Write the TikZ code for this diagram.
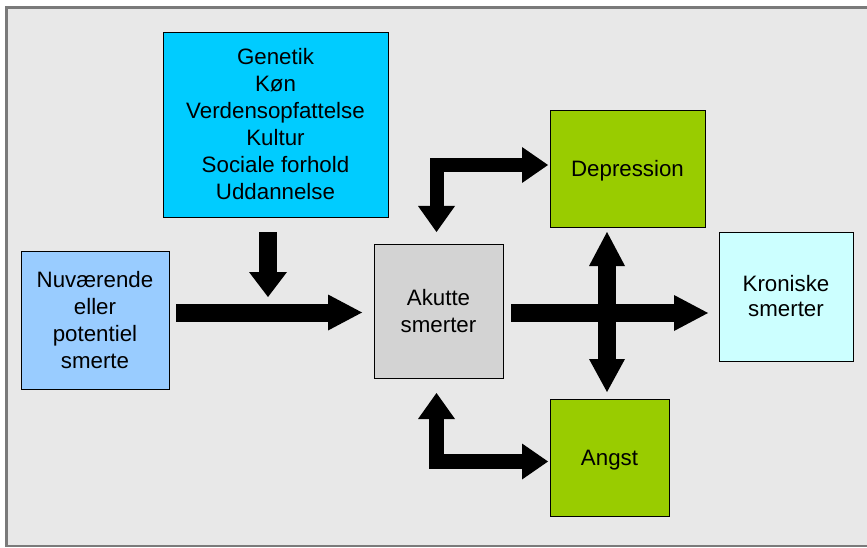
\documentclass[tikz,border=0pt]{standalone}
\usepackage{fontspec}
\setmainfont{Liberation Sans}
\usetikzlibrary{arrows.meta}
\definecolor{bgc}{HTML}{E8E8E8}
\definecolor{framec}{HTML}{7A7A7A}
\definecolor{genc}{HTML}{00CCFF}
\definecolor{nuvc}{HTML}{99CCFF}
\definecolor{akc}{HTML}{D3D3D3}
\definecolor{grc}{HTML}{99CC00}
\definecolor{krc}{HTML}{CCFFFF}
\begin{document}
\begin{tikzpicture}[x=1pt,y=-1pt,
  box/.style={draw=black, line width=0.9pt, align=center, inner sep=0pt,
    font=\fontsize{22.3}{27}\selectfont},
  onel/.style={text height=16pt, text depth=0pt},
  blk/.style={draw=black, line width=#1, line join=miter},
  bigtip/.style={-{Triangle[width=36pt,length=34pt,line width=0pt]}},
  dbltip/.style={{Triangle[width=36pt,length=33pt,line width=0pt]}-{Triangle[width=36pt,length=34pt,line width=0pt]}},
  elbtip/.style={{Triangle[width=37pt,length=26pt,line width=0pt]}-{Triangle[width=36pt,length=26pt,line width=0pt]}},
  ]
\useasboundingbox (0,0) rectangle (867,548);
\fill[white] (0,0) rectangle (867,548);
\draw[fill=bgc, draw=framec, line width=2.5pt] (6.5,7.5) rectangle (872,546);

\node[box, fill=genc, minimum width=225pt, minimum height=185pt] (gen) at (275.5,124.5)
  {Genetik\\Køn\\Verdensopfattelse\\Kultur\\Sociale forhold\\Uddannelse};
\node[box, fill=nuvc, minimum width=148pt, minimum height=138pt] (nuv) at (95,320)
  {Nuværende\\eller\\potentiel\\smerte};
\node[box, fill=akc, minimum width=129pt, minimum height=134pt] (akut) at (438.5,311)
  {Akutte\\smerter};
\node[box, onel, fill=grc, minimum width=155pt, minimum height=117pt] (dep) at (627.5,168.5)
  {Depression};
\node[box, onel, fill=grc, minimum width=119pt, minimum height=117pt] (angst) at (609.5,457.5)
  {Angst};
\node[box, fill=krc, minimum width=134pt, minimum height=129pt, font=\fontsize{22.3}{25}\selectfont] (kron) at (786,296.5)
  {Kroniske\\smerter};

% arrow end points
\coordinate (m1) at (176,312.5);
\coordinate (m2) at (362,312.5);
\coordinate (d1) at (268,232);
\coordinate (d2) at (268,297);
\coordinate (r1) at (511,313);
\coordinate (r2) at (708,313);
\coordinate (v1) at (607,232);
\coordinate (v2) at (607,392);
\coordinate (e1) at (436.5,232);
\coordinate (e2) at (548,165);
\coordinate (f1) at (436.5,393);
\coordinate (f2) at (548,461.5);

\draw[blk=18pt, bigtip] (m1) -- (m2);
\draw[blk=18pt, -{Triangle[width=38pt,length=25pt,line width=0pt]}] (d1) -- (d2);
\draw[blk=18pt, bigtip] (r1) -- (r2);
\draw[blk=18pt, dbltip] (v2) -- (v1);
\draw[blk=14pt, elbtip] (e1) |- (e2);
\draw[blk=15pt, elbtip] (f1) |- (f2);
\end{tikzpicture}
\end{document}
